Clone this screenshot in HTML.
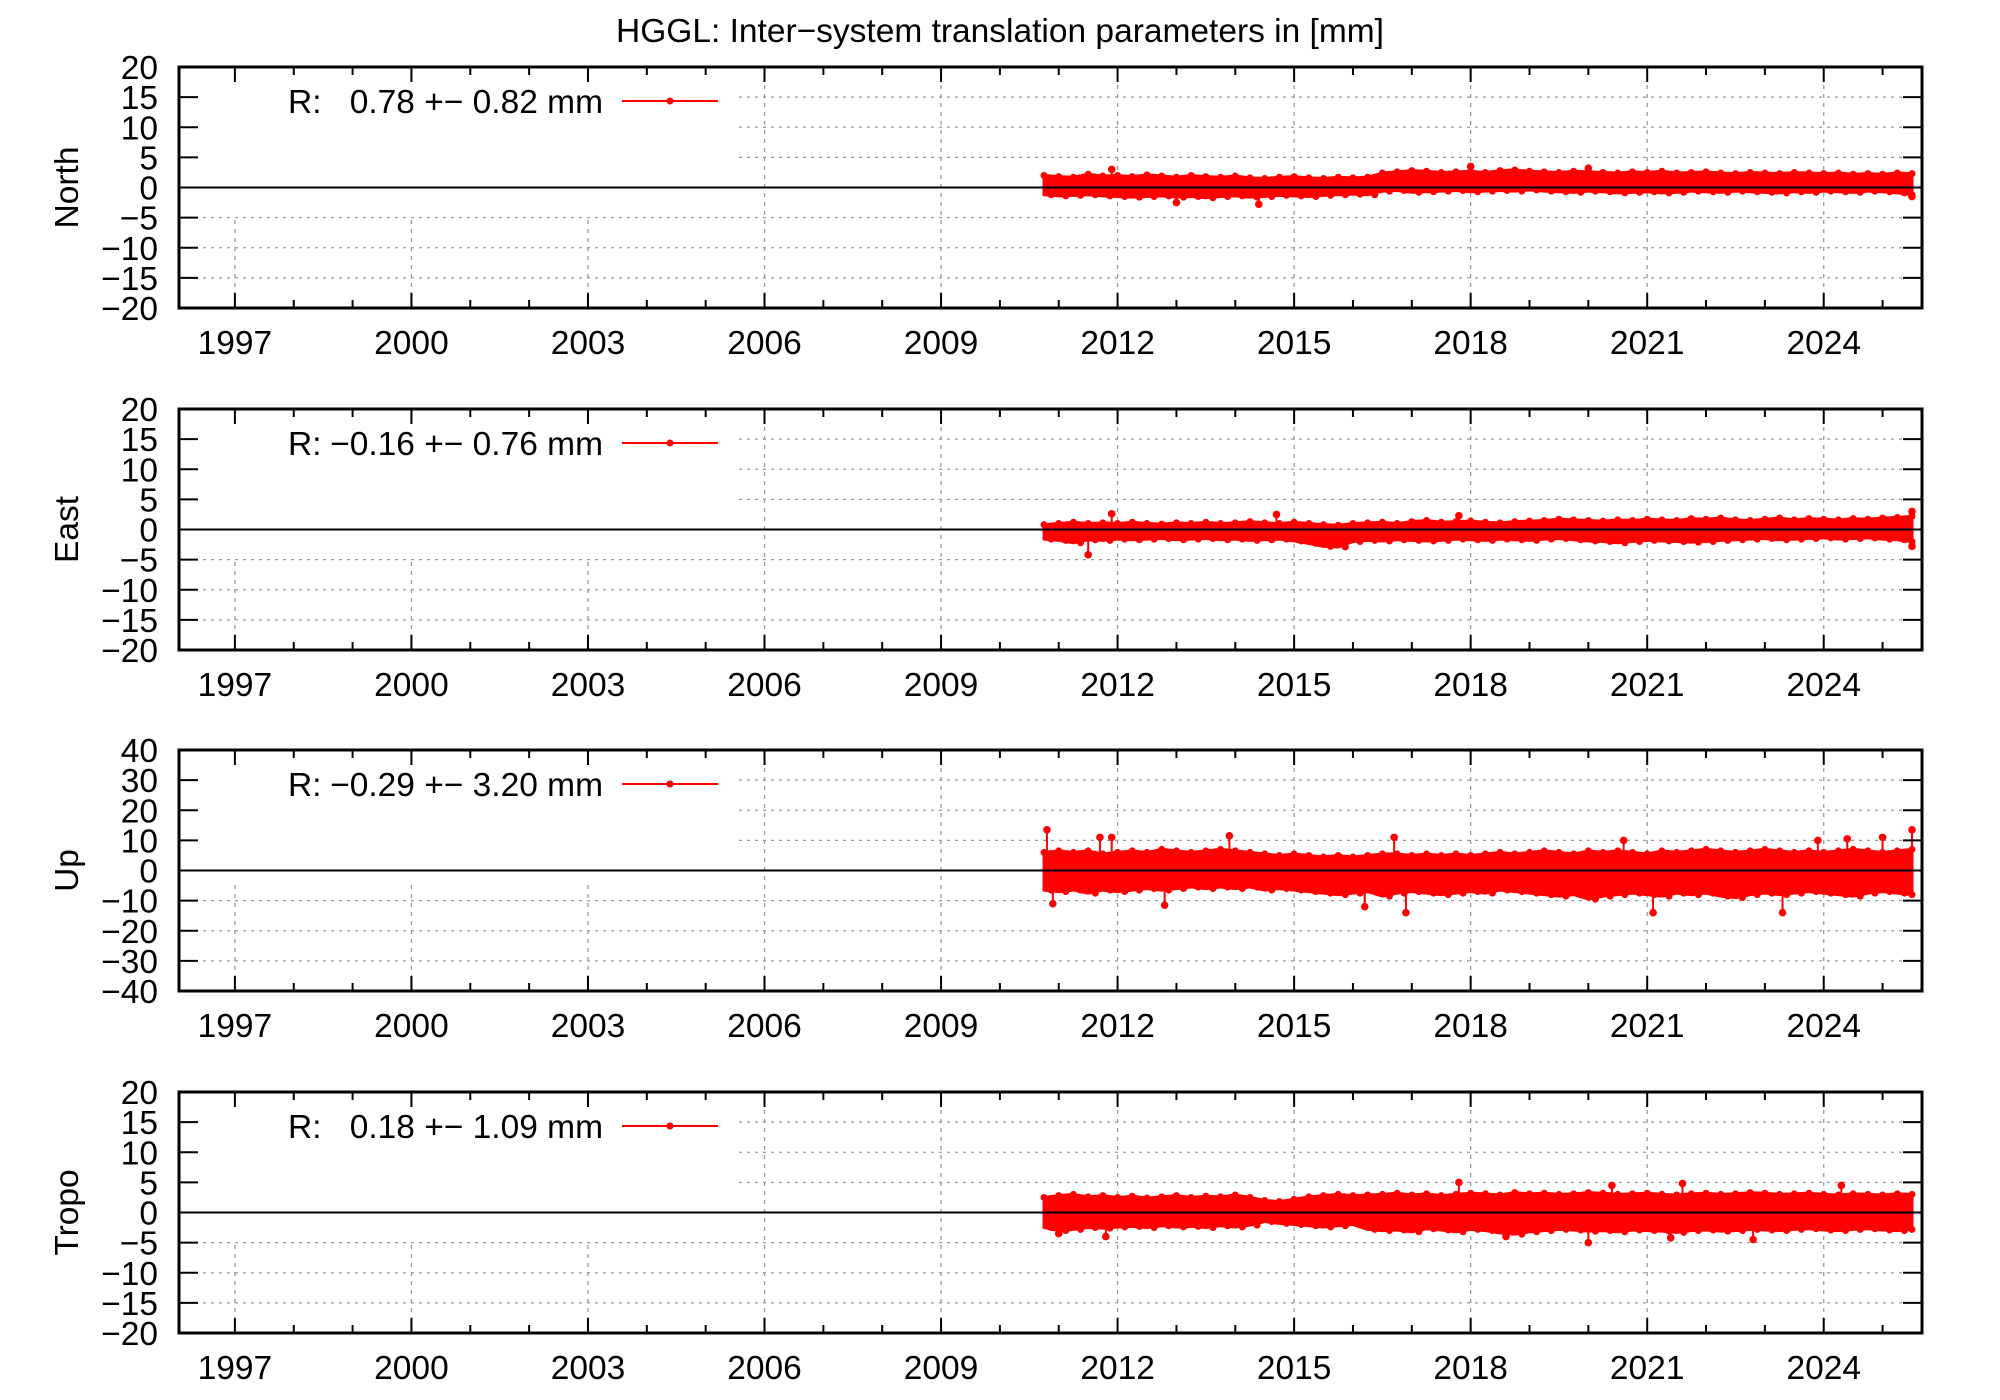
<!DOCTYPE html>
<html><head><meta charset="utf-8"><style>
html,body{margin:0;padding:0;background:#fff}
svg{display:block;font-family:"Liberation Sans",Arial,sans-serif}
</style></head><body>
<svg id="chart" width="2000" height="1400" viewBox="0 0 2000 1400" xmlns="http://www.w3.org/2000/svg">
<rect width="2000" height="1400" fill="#fff"/>
<text x="1000" y="42" text-anchor="middle" font-size="33.5">HGGL: Inter−system translation parameters in [mm]</text>
</svg>
<script>
const yearTicks = [1997, 2000, 2003, 2006, 2009, 2012, 2015, 2018, 2021, 2024];
const panelNames = ["North", "East", "Up", "Tropo"];
const legendMean = ["0.78", "−0.16", "−0.29", "0.18"];
const legendStd = ["0.82", "0.76", "3.20", "1.09"];
const yRanges = [[-20, 20], [-20, 20], [-40, 40], [-20, 20]];
const yStep = [5, 5, 10, 5];
const tStart = 2010.75;
const tStepQ = 0.25;
const northHi = [2.0,1.8,1.7,2.2,1.9,2.0,1.8,2.1,1.9,1.7,2.0,1.8,1.7,1.9,1.6,1.5,1.7,1.8,1.6,1.5,1.7,1.6,1.7,2.4,2.6,2.8,2.7,2.5,2.6,2.7,2.5,2.8,2.9,2.7,2.6,2.5,2.7,2.6,2.5,2.4,2.6,2.5,2.7,2.4,2.5,2.6,2.4,2.3,2.5,2.4,2.3,2.5,2.4,2.3,2.4,2.2,2.3,2.2,2.4,2.3];
const northLo = [-1.2,-1.4,-1.3,-1.2,-1.4,-1.5,-1.6,-1.5,-1.4,-1.6,-1.5,-1.7,-1.5,-1.4,-1.6,-1.5,-1.3,-1.4,-1.5,-1.3,-1.2,-1.1,-1.2,-0.6,-0.5,-0.8,-0.7,-0.6,-0.5,-0.7,-0.6,-0.5,-0.6,-0.4,-0.6,-0.7,-0.8,-0.6,-0.7,-0.9,-0.8,-0.7,-0.9,-0.8,-0.6,-0.7,-0.8,-0.6,-0.7,-0.8,-0.9,-0.7,-0.8,-0.6,-0.7,-0.8,-0.6,-0.7,-0.9,-1.2];
const eastHi = [0.8,1.0,1.2,1.0,1.1,1.0,1.2,1.0,0.9,1.1,1.0,1.2,1.0,1.1,1.3,1.1,1.0,1.2,1.0,0.8,0.7,1.0,1.1,1.2,1.0,1.3,1.5,1.2,1.3,1.4,1.2,1.1,1.3,1.4,1.5,1.7,1.6,1.5,1.4,1.6,1.5,1.7,1.6,1.5,1.8,1.7,1.9,1.6,1.5,1.7,1.9,1.6,1.8,1.7,1.6,1.8,1.7,1.9,2.0,2.2];
const eastLo = [-1.6,-1.8,-2.2,-1.7,-1.8,-1.6,-1.7,-1.6,-1.5,-1.7,-1.6,-1.5,-1.7,-1.6,-1.8,-1.7,-1.6,-1.9,-2.3,-2.8,-2.9,-2.0,-1.8,-1.9,-1.7,-1.8,-1.9,-1.8,-1.6,-1.7,-1.8,-1.6,-1.7,-1.8,-1.6,-1.5,-1.7,-1.9,-2.0,-2.2,-2.0,-1.8,-1.9,-2.0,-2.1,-2.0,-1.8,-1.7,-1.6,-1.5,-1.7,-1.6,-1.5,-1.4,-1.6,-1.5,-1.4,-1.6,-1.7,-2.0];
const upHi = [6.0,6.5,6.0,6.5,5.5,6.0,6.5,6.0,7.0,6.5,6.0,6.5,7.0,6.5,6.0,5.5,5.0,5.5,5.0,4.5,5.0,4.5,5.0,5.5,5.5,5.0,5.5,5.0,5.5,5.0,5.5,6.0,5.5,6.0,6.5,6.0,5.5,6.5,6.0,6.5,6.0,5.5,6.5,6.0,6.5,7.0,6.5,6.0,6.5,7.0,6.5,6.0,6.5,6.0,6.5,7.0,6.5,6.0,6.5,7.0];
const upLo = [-6.5,-7.0,-6.5,-7.5,-6.5,-7.0,-6.5,-6.0,-6.5,-6.0,-5.5,-6.0,-5.5,-6.0,-5.5,-6.5,-6.0,-6.5,-7.0,-7.5,-8.0,-7.5,-7.0,-8.5,-7.5,-7.0,-7.5,-8.0,-7.5,-7.0,-7.5,-6.5,-7.0,-7.5,-8.0,-8.5,-8.0,-9.5,-8.5,-8.0,-7.5,-8.0,-8.5,-7.5,-8.0,-7.5,-8.5,-9.0,-8.0,-7.5,-8.0,-7.5,-7.0,-7.5,-8.0,-8.5,-7.5,-7.0,-7.5,-8.0];
const tropoHi = [2.5,2.8,3.0,2.6,2.8,2.5,2.7,2.4,2.6,2.8,2.5,2.7,2.6,2.9,2.5,2.0,1.8,2.2,2.6,2.8,3.0,2.8,2.9,3.0,3.2,2.9,3.1,2.8,3.0,3.2,3.1,2.9,3.3,3.1,3.2,3.0,3.1,3.3,3.2,3.0,3.1,3.2,3.0,2.9,3.1,3.2,3.0,3.1,3.3,3.2,3.0,3.1,3.2,3.0,2.9,3.1,3.0,2.9,3.1,3.0];
const tropoLo = [-2.5,-3.0,-2.8,-2.5,-2.6,-2.4,-2.3,-2.5,-2.2,-2.4,-2.3,-2.5,-2.2,-2.4,-2.1,-1.5,-1.8,-2.0,-2.2,-2.4,-2.2,-2.0,-2.8,-3.0,-2.9,-3.2,-2.7,-2.9,-3.2,-2.8,-3.0,-3.4,-3.6,-3.2,-3.0,-2.8,-2.9,-3.1,-3.0,-3.2,-2.9,-3.0,-3.1,-3.3,-3.0,-2.9,-3.1,-3.0,-2.8,-2.9,-3.0,-2.8,-2.7,-2.9,-3.0,-2.8,-2.7,-2.9,-3.0,-2.8];
const northSpikeT = [2011.9, 2013.0, 2014.4, 2018.0, 2020.0, 2025.5];
const northSpikeV = [3.0, -2.5, -2.8, 3.5, 3.2, -1.5];
const eastSpikeT = [2011.5, 2011.9, 2014.7, 2017.8, 2025.5, 2025.5];
const eastSpikeV = [-4.2, 2.6, 2.5, 2.3, 3.0, -2.8];
const upSpikeT = [2010.8, 2010.9, 2011.7, 2011.9, 2012.8, 2013.9, 2016.2, 2016.7, 2016.9, 2020.6, 2021.1, 2023.3, 2023.9, 2024.4, 2025.0, 2025.5];
const upSpikeV = [13.5, -11, 11, 11, -11.5, 11.5, -12, 11, -14, 10, -14, -14, 10, 10.5, 11, 13.5];
const tropoSpikeT = [2011.0, 2011.8, 2017.8, 2018.6, 2020.0, 2020.4, 2021.4, 2021.6, 2022.8, 2024.3];
const tropoSpikeV = [-3.5, -4, 5, -4, -5, 4.5, -4.2, 4.8, -4.5, 4.5];
const hiSeries = [northHi, eastHi, upHi, tropoHi];
const loSeries = [northLo, eastLo, upLo, tropoLo];
const spikeT = [northSpikeT, eastSpikeT, upSpikeT, tropoSpikeT];
const spikeV = [northSpikeV, eastSpikeV, upSpikeV, tropoSpikeV];

const NS = "http://www.w3.org/2000/svg";
const svg = document.getElementById("chart");
const L = 179, R = 1922, PH = 241;
const tops = [67, 409, 750, 1092];
const xMin = 1996.05, xMax = 2025.67;
const tEnd = 2025.5;
function xs(t) { return L + (t - xMin) / (xMax - xMin) * (R - L); }
function mk(tag, attrs, parent) {
  const e = document.createElementNS(NS, tag);
  for (const k in attrs) e.setAttribute(k, attrs[k]);
  (parent || svg).appendChild(e);
  return e;
}
const FS = 33.5;

panelNames.forEach((name, p) => {
  const T = tops[p], B = T + PH;
  const [y0, y1] = yRanges[p];
  const ys = v => B - (v - y0) / (y1 - y0) * PH;
  const g = mk("g", {});
  
  
  for (let v = y0 + yStep[p]; v < y1; v += yStep[p]) {
    if (v === 0) continue;
    const gl = mk("line", {x1: L, x2: R, y1: ys(v), y2: ys(v), stroke: "#999", "stroke-width": 1.3, "stroke-dasharray": "3,5"}, g);
    
    
  }
  yearTicks.forEach(yr => {
    const gl = mk("line", {x1: xs(yr), x2: xs(yr), y1: T, y2: B, stroke: "#999", "stroke-width": 1.3, "stroke-dasharray": "4,5"}, g);
    
    
  });
  mk("rect", {x: L + 2, y: T + 2, width: 737 - L, height: ys(-5) - T - 3, fill: "#fff"}, g);
  const hi = hiSeries[p], lo = loSeries[p];
  const n = Math.min(hi.length, lo.length);
  let pts = [];
  for (let i = 0; i < n; i++) pts.push(xs(Math.min(tStart + i * tStepQ, tEnd)) + "," + ys(hi[i]));
  for (let i = n - 1; i >= 0; i--) pts.push(xs(Math.min(tStart + i * tStepQ, tEnd)) + "," + ys(lo[i]));
  const band = mk("polygon", {points: pts.join(" "), fill: "#f00", stroke: "#f00", "stroke-width": 3, "stroke-linejoin": "round"}, g);
  
  
  for (let i = 0; i < n; i++) {
    const t = Math.min(tStart + i * tStepQ, tEnd);
    const c1 = mk("circle", {cx: xs(t), cy: ys(hi[i]), r: 3.5, fill: "#f00"}, g);
    
    
    const c2 = mk("circle", {cx: xs(Math.min(t + 0.12, tEnd)), cy: ys(lo[i]), r: 3.5, fill: "#f00"}, g);
    
    
  }
  spikeT[p].forEach((t, i) => {
    const v = spikeV[p][i];
    const sl = mk("line", {x1: xs(t), x2: xs(t), y1: ys(0), y2: ys(v), stroke: "#f00", "stroke-width": 2}, g);
    
    
    const c = mk("circle", {cx: xs(t), cy: ys(v), r: 3.8, fill: "#f00"}, g);
    
    
  });
  const z = mk("line", {x1: L, x2: R, y1: ys(0), y2: ys(0), stroke: "#000", "stroke-width": 2}, g);
  
  
  const fr = mk("rect", {x: L, y: T, width: R - L, height: PH, fill: "none", stroke: "#000", "stroke-width": 3}, g);
  
  
  for (let v = y0; v <= y1; v += yStep[p]) {
    const y = ys(v);
    if (v > y0 && v < y1) {
      mk("line", {x1: L, x2: L + 19, y1: y, y2: y, stroke: "#000", "stroke-width": 2}, g);
      mk("line", {x1: R - 19, x2: R, y1: y, y2: y, stroke: "#000", "stroke-width": 2}, g);
    }
    const tl = mk("text", {x: 158, y: y + 12, "text-anchor": "end", "font-size": FS}, g);
    tl.textContent = (v < 0 ? "−" + (-v) : String(v));
    
    
  }
  for (let yr = 1997; yr <= 2025; yr++) {
    const major = yearTicks.includes(yr);
    const len = major ? 15 : 8;
    mk("line", {x1: xs(yr), x2: xs(yr), y1: B, y2: B - len, stroke: "#000", "stroke-width": 2}, g);
    mk("line", {x1: xs(yr), x2: xs(yr), y1: T, y2: T + len, stroke: "#000", "stroke-width": 2}, g);
  }
  yearTicks.forEach(yr => {
    const tl = mk("text", {x: xs(yr), y: B + 46, "text-anchor": "middle", "font-size": FS}, g);
    tl.textContent = yr;
    
    
  });
  const yt = mk("text", {x: 0, y: 0, "text-anchor": "middle", "font-size": FS, transform: `translate(78,${T + PH / 2}) rotate(-90)`}, g);
  yt.textContent = name;
  
  
  const ly = T + 34;
  const lr = mk("text", {x: 288, y: ly + 12, "font-size": FS}, g);
  lr.textContent = "R:";
  
  
  const lv = mk("text", {x: 603, y: ly + 12, "text-anchor": "end", "font-size": FS}, g);
  lv.textContent = legendMean[p] + " +− " + legendStd[p] + " mm";
  
  
  const ll = mk("line", {x1: 622, x2: 718, y1: ly, y2: ly, stroke: "#f00", "stroke-width": 2}, g);
  
  
  mk("circle", {cx: 670, cy: ly, r: 3.5, fill: "#f00"}, g);
});
</script>
</body></html>
